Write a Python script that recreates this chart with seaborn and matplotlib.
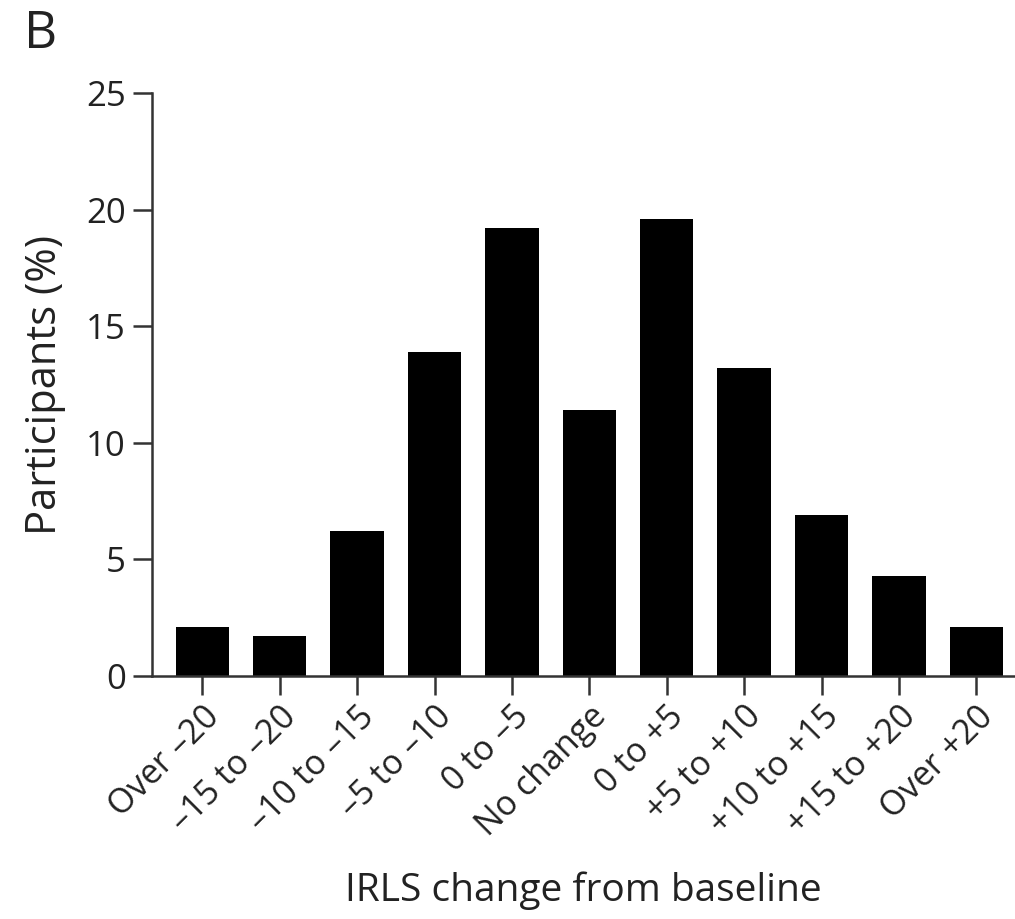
import matplotlib
matplotlib.use("Agg")
import matplotlib.pyplot as plt
import seaborn as sns
import pandas as pd

categories = ["Over –20", "–15 to –20", "–10 to –15", "–5 to –10", "0 to –5",
              "No change", "0 to +5", "+5 to +10", "+10 to +15", "+15 to +20", "Over +20"]
participants = [2.1, 1.7, 6.2, 13.9, 19.2, 11.4, 19.6, 13.2, 6.9, 4.3, 2.1]
yticks = [0, 5, 10, 15, 20, 25]

sns.set_theme(style="ticks")
plt.rcParams['font.family'] = ['Open Sans', 'DejaVu Sans']

df = pd.DataFrame({"cat": categories, "val": participants})

fig = plt.figure(figsize=(10.15, 9.19), dpi=100)
ax = fig.add_axes([0.1498, 0.2644, 0.8502, 0.6344])
sns.barplot(data=df, x="cat", y="val", color="black", width=0.69,
            saturation=1, ax=ax, edgecolor="black", linewidth=0)

ax.set_xlim(-0.65, 10.5)
ax.set_ylim(0, 25)
ax.set_yticks(yticks)
ax.set_yticklabels([str(v) for v in yticks], fontsize=25, color="#222222")
ax.set_xticks(range(len(categories)))
ax.set_xticklabels(categories, rotation=45, ha="right", rotation_mode="anchor",
                   fontsize=24.5, color="#222222")
ax.tick_params(axis="both", length=14, width=1.8, color="#333333", pad=5)
ax.tick_params(axis="x", pad=3)
for s in ["top", "right"]:
    ax.spines[s].set_visible(False)
for s in ["left", "bottom"]:
    ax.spines[s].set_color("#333333")
    ax.spines[s].set_linewidth(1.8)

ax.set_xlabel("IRLS change from baseline", fontsize=28, color="#222222", labelpad=20)
ax.set_ylabel("Participants (%)", fontsize=30, color="#222222", labelpad=14)

fig.text(0.024, 0.99, "B", fontsize=37, color="#222222", va="top", ha="left")

fig.savefig("out.png", dpi=100)
